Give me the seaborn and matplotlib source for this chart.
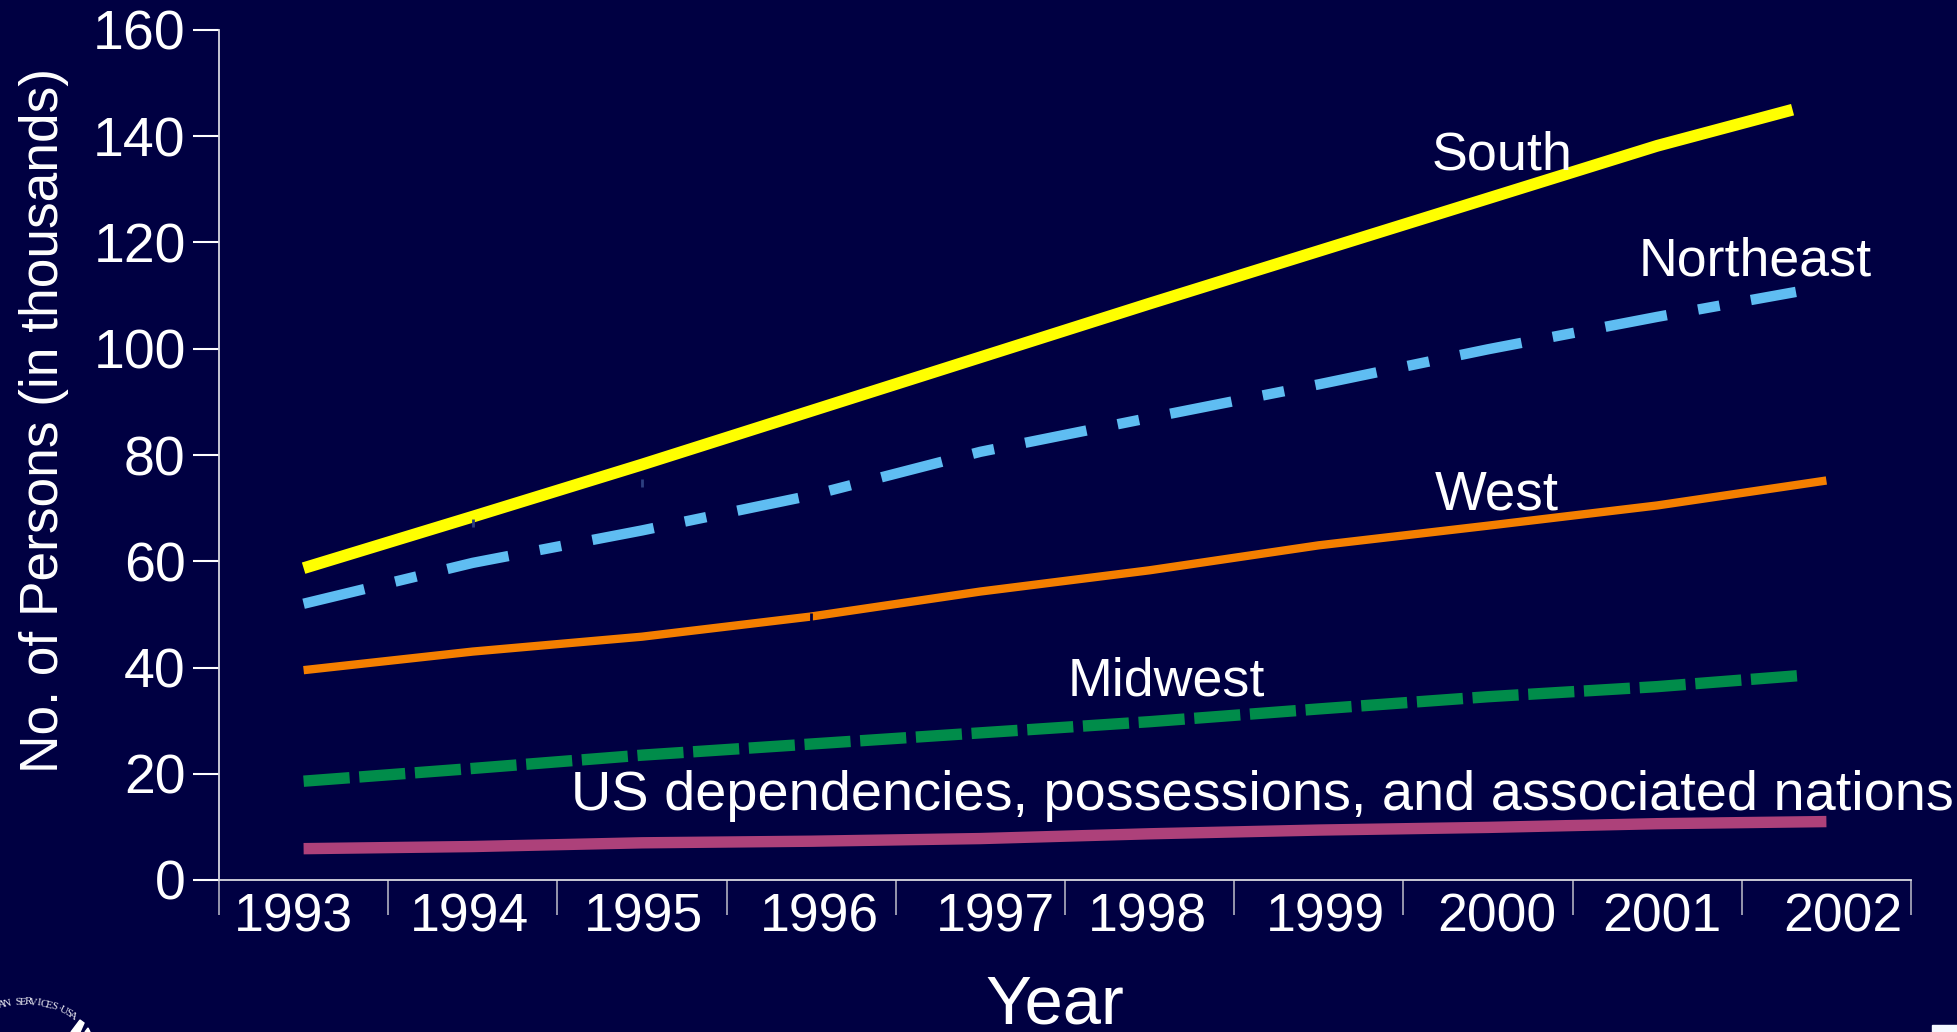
import numpy as np
import pandas as pd
import matplotlib
matplotlib.use("Agg")
import matplotlib.pyplot as plt
from matplotlib.patches import Polygon, Rectangle
import seaborn as sns

years = [1993, 1994, 1995, 1996, 1997, 1998, 1999, 2000, 2001, 2002]
# the last point of some lines stops short of the 2002 position
x_full = [0, 1, 2, 3, 4, 5, 6, 7, 8, 9]
x_south = [0, 1, 2, 3, 4, 5, 6, 7, 8, 8.8]
x_northeast = [0, 1, 2, 3, 4, 5, 6, 7, 8, 8.82]
x_midwest = [0, 1, 2, 3, 4, 5, 6, 7, 8, 8.85]

south = [58.7, 68.4, 78.2, 88.3, 98.4, 108.5, 118.4, 128.3, 138.2, 145]
northeast = [52, 59.7, 65.8, 72.4, 80.6, 87, 93.3, 99.9, 106, 110.7]
west = [39.5, 43, 45.8, 49.6, 54.3, 58.3, 63, 66.7, 70.5, 75.2]
midwest = [18.6, 21, 23.5, 25.6, 27.7, 29.8, 32.2, 34.5, 36.4, 38.5]
dependencies = [5.9, 6.3, 7, 7.3, 7.8, 8.7, 9.4, 9.9, 10.6, 11]

# stray little marks that are in the original
stray_x = [1, 2, 3]
stray_y = [67.2, 74.7, 49.5]
stray_colors = ["#2c3f80", "#2c3f80", "#000042"]

y_ticks = [0, 20, 40, 60, 80, 100, 120, 140, 160]
# year labels sit a bit off centre in the original
label_pos = [-0.06, 0.98, 2.01, 3.05, 4.09, 4.99, 6.04, 7.05, 8.03, 9.1]

bg = "#000042"
W, H = 1957, 1032

sns.set_theme(style="white")
plt.rcParams["font.family"] = ["Liberation Sans", "DejaVu Sans"]

fig = plt.figure(figsize=(W / 100, H / 100), dpi=100, facecolor=bg)
ax = fig.add_axes([219 / W, (H - 880) / H, (1911 - 219) / W, (880 - 30) / H], facecolor=bg)

sns.lineplot(x=x_south, y=south, color="#ffff00", ax=ax, estimator=None, sort=False)
sns.lineplot(x=x_northeast, y=northeast, color="#5fbdf2", ax=ax, estimator=None, sort=False)
sns.lineplot(x=x_full, y=west, color="#f47f00", ax=ax, estimator=None, sort=False)
sns.lineplot(x=x_midwest, y=midwest, color="#008c4a", ax=ax, estimator=None, sort=False)
sns.lineplot(x=x_full, y=dependencies, color="#ad417a", ax=ax, estimator=None, sort=False)

lines = ax.get_lines()
widths = [8.5, 7.5, 6.0, 8.2, 8.2]
for ln, lw in zip(lines, widths):
    ln.set_linewidth(lw)
    ln.set_solid_capstyle("butt")
    ln.set_dash_capstyle("butt")
lines[1].set_linestyle((0, (6.0, 3.05, 2.1, 3.05)))
lines[3].set_linestyle((0, (4.05, 0.85)))

for sx, sy, sc in zip(stray_x, stray_y, stray_colors):
    ax.plot([sx], [sy], marker="|", markersize=6, markeredgewidth=2, color=sc, zorder=5)

ax.set_xlim(-0.5, 9.5)
ax.set_ylim(0, 160)

sns.despine(ax=ax)
for s in ["left", "bottom"]:
    ax.spines[s].set_color("#d8d8e0")
    ax.spines[s].set_linewidth(1.3)

ax.set_yticks(y_ticks)
ax.tick_params(axis="y", left=True, length=19, width=1.5, color="white", labelcolor="white",
               labelsize=40, pad=5)
ax.set_xticks(np.arange(-0.5, 10, 1))
ax.set_xticklabels([])
ax.tick_params(axis="x", which="major", bottom=True, length=25, width=1.2, color="#b0b0c0")
ax.set_xticks(label_pos, minor=True)
ax.set_xticklabels([str(y) for y in years], minor=True)
ax.tick_params(axis="x", which="minor", bottom=False, length=0, labelcolor="white", labelsize=38.5, pad=9)

ax.set_ylabel("No. of Persons (in thousands)", color="white", fontsize=38.3)
ax.set_xlabel("Year", color="white", fontsize=49.5)
ax.xaxis.label.set_va("center")
ax.yaxis.label.set_va("center")
ax.xaxis.set_label_coords((1055 - 219) / (1911 - 219), -(1005 - 880) / 850, transform=ax.transAxes)
ax.yaxis.set_label_coords(-(219 - 44) / (1911 - 219), 0.54, transform=ax.transAxes)

# series names, placed by eye
ax.text(7.5, 136.3, "South", color="white", fontsize=38.8, ha="right", va="center")
ax.text(8.58, 116.5, "Northeast", color="white", fontsize=38.7, ha="center", va="center")
ax.text(7.42, 72.3, "West", color="white", fontsize=39.5, ha="right", va="center")
ax.text(5.68, 37.3, "Midwest", color="white", fontsize=38.7, ha="right", va="center")
ax.text(9.75, 15.8, "US dependencies, possessions, and associated nations", color="white",
        fontsize=40.2, ha="right", va="center", clip_on=False)

# bit of the seal cut off in the bottom left corner
seal = "AN SERVICES·USA"
cx, cy, r = 25, 1090, 88
for ch, deg in zip(seal, np.linspace(-15, 33, len(seal))):
    px = cx + r * np.sin(np.radians(deg))
    py = cy - r * np.cos(np.radians(deg))
    fig.text(px / W, 1 - py / H, ch, color="#e8e8f0", fontsize=8, family="Liberation Serif",
             rotation=-deg, ha="center", va="center")
fig.add_artist(Polygon([(71 / W, 0), (80 / W, 1 - 1020 / H), (84 / W, 1 - 1023 / H), (80 / W, 0)],
                       closed=True, color="white", transform=fig.transFigure))
fig.add_artist(Polygon([(85 / W, 0), (88 / W, 1 - 1028 / H), (90 / W, 0)],
                       closed=True, color="white", transform=fig.transFigure))
# corner of something white at the bottom right
fig.add_artist(Rectangle((1932 / W, 0), 25 / W, 7 / H, color="#f4f8ff", transform=fig.transFigure))

fig.savefig("out.png", dpi=100, facecolor=bg)
